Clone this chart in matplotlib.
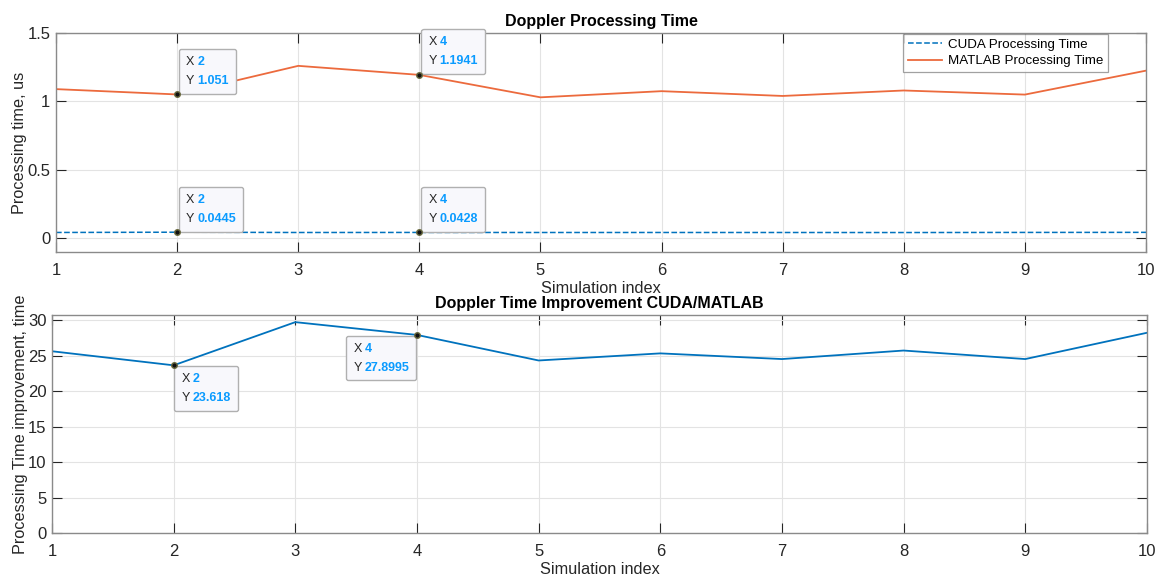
import numpy as np
import matplotlib
matplotlib.use('Agg')
import matplotlib.pyplot as plt
from matplotlib.offsetbox import TextArea, HPacker, VPacker, AnnotationBbox

plt.rcParams['font.family'] = ['Liberation Sans', 'DejaVu Sans']

# data
sim_index = [1, 2, 3, 4, 5, 6, 7, 8, 9, 10]
cuda_time = [0.0426, 0.0445, 0.0424, 0.0428, 0.0424, 0.0425, 0.0424, 0.0421, 0.0429, 0.0434]
matlab_time = [1.09, 1.051, 1.26, 1.1941, 1.03, 1.075, 1.04, 1.08, 1.05, 1.225]
improvement = [25.6, 23.618, 29.7, 27.8995, 24.3, 25.3, 24.5, 25.7, 24.5, 28.2]

blue = '#0072BD'
orange = '#EC6A3D'
tip_blue = '#0A9BFF'
txt = '#262626'


def style_axes(ax):
    ax.grid(True, color='#e3e3e3', linewidth=0.8)
    ax.set_axisbelow(True)
    ax.tick_params(direction='in', top=True, right=True, labelsize=12,
                   colors='#262626', length=7, width=0.8)
    ax.tick_params(axis='x', pad=8)
    ax.tick_params(axis='y', pad=4)
    for s in ax.spines.values():
        s.set_color('#8a8a8a')
        s.set_linewidth(1.0)
    ax.set_xlim(1, 10)
    ax.set_xticks(sim_index)


def datatip(ax, x, y, label, dx, dy, align):
    ax.plot([x], [y], 'o', color='#111111', markeredgecolor='#6b6b40',
            markersize=4, zorder=7)
    row1 = HPacker(children=[TextArea('X', textprops=dict(color=txt, fontsize=9)),
                             TextArea(str(x), textprops=dict(color=tip_blue, fontsize=9, fontweight='bold'))],
                   pad=0, sep=2)
    row2 = HPacker(children=[TextArea('Y', textprops=dict(color=txt, fontsize=9)),
                             TextArea(label, textprops=dict(color=tip_blue, fontsize=9, fontweight='bold'))],
                   pad=0, sep=2)
    box = VPacker(children=[row1, row2], pad=0, sep=5, align='left')
    ab = AnnotationBbox(box, (x, y), xybox=(dx, dy), xycoords='data',
                        boxcoords='offset points', box_alignment=align,
                        frameon=True, pad=0.5,
                        bboxprops=dict(facecolor='#f8f8fc', edgecolor='#b0b0b0',
                                       linewidth=1.0, boxstyle='round,pad=0.5,rounding_size=0.15'))
    ab.zorder = 6
    ax.add_artist(ab)


fig = plt.figure(figsize=(11.55, 5.79), dpi=100)
ax1 = fig.add_axes([0.0485, 0.5648, 0.9437, 0.3782])
ax2 = fig.add_axes([0.045, 0.0794, 0.948, 0.3765])

# top panel
ax1.plot(sim_index, cuda_time, '--', color=blue, linewidth=1.1, label='CUDA Processing Time')
ax1.plot(sim_index, matlab_time, '-', color=orange, linewidth=1.3, label='MATLAB Processing Time')
style_axes(ax1)
ax1.set_ylim(-0.1, 1.5)
ax1.set_yticks([0, 0.5, 1, 1.5])
ax1.set_yticklabels(['0', '0.5', '1', '1.5'])
ax1.set_title('Doppler Processing Time', fontsize=11.5, fontweight='bold', pad=5)
ax1.set_xlabel('Simulation index', fontsize=11.7, color=txt, labelpad=2)
ax1.set_ylabel('Processing time, us', fontsize=11.7, color=txt, labelpad=0)
leg = ax1.legend(loc='upper right', fontsize=9.6, frameon=True, fancybox=False,
                 borderpad=0.35, handlelength=2.6, handletextpad=0.4,
                 labelspacing=0.3, borderaxespad=0, bbox_to_anchor=(0.965, 0.995))
leg.get_frame().set_edgecolor('#8a8a8a')
leg.get_frame().set_linewidth(0.9)

datatip(ax1, 2, 1.051, '1.051', 6.5, 5.5, (0, 0))
datatip(ax1, 4, 1.1941, '1.1941', 6.5, 5.5, (0, 0))
datatip(ax1, 2, 0.0445, '0.0445', 6.5, 5.5, (0, 0))
datatip(ax1, 4, 0.0428, '0.0428', 6.5, 5.5, (0, 0))

# bottom panel
ax2.plot(sim_index, improvement, '-', color=blue, linewidth=1.3)
style_axes(ax2)
ax2.set_ylim(0, 30.7)
ax2.set_yticks([0, 5, 10, 15, 20, 25, 30])
ax2.set_title('Doppler Time Improvement CUDA/MATLAB', fontsize=11.5, fontweight='bold', pad=5)
ax2.set_xlabel('Simulation index', fontsize=11.7, color=txt, labelpad=2)
ax2.set_ylabel('Processing Time improvement, time', fontsize=11.7, color=txt, labelpad=0)

datatip(ax2, 2, 23.618, '23.618', 5.5, -5.5, (0, 1))
datatip(ax2, 4, 27.8995, '27.8995', -5.5, -5.5, (1, 1))

fig.savefig('out.png', dpi=100)
